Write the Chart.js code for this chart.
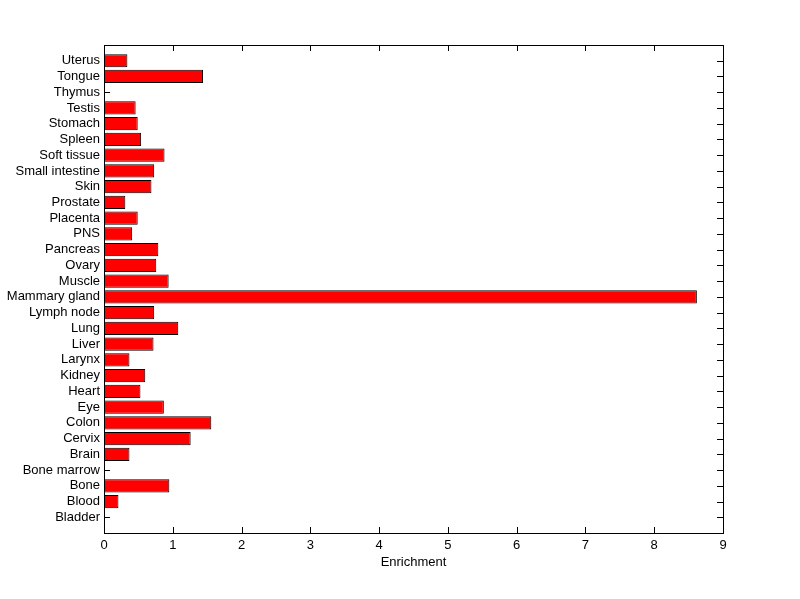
<!DOCTYPE html>
<html>
  <head>
    <meta charset="utf-8" />
    <script src="https://cdn.jsdelivr.net/npm/chart.js@4.4.1/dist/chart.umd.min.js"></script>
    <style>
      body { margin: 0; background: #fff; }
    </style>
  </head>
  <body>
    <canvas id="enrichChart" width="800" height="599"></canvas>
    <script>
      // bottom to top, as on the plot (Bladder = 1, Uterus = 30)
      var tissues = [
        "Bladder", "Blood", "Bone", "Bone marrow", "Brain", "Cervix", "Colon",
        "Eye", "Heart", "Kidney", "Larynx", "Liver", "Lung", "Lymph node",
        "Mammary gland", "Muscle", "Ovary", "Pancreas", "PNS", "Placenta",
        "Prostate", "Skin", "Small intestine", "Soft tissue", "Spleen",
        "Stomach", "Testis", "Thymus", "Tongue", "Uterus",
      ];
      var enrichment = [
        0, 0.21, 0.95, 0, 0.37, 1.26, 1.56,
        0.87, 0.53, 0.6, 0.37, 0.72, 1.08, 0.73,
        8.62, 0.94, 0.76, 0.79, 0.41, 0.49,
        0.31, 0.69, 0.73, 0.88, 0.54,
        0.49, 0.46, 0, 1.44, 0.34,
      ];
      var xTicks = [0, 1, 2, 3, 4, 5, 6, 7, 8, 9];

      var font = { family: "'Liberation Sans', Arial, sans-serif", size: 13 };

      // matlab style box with inward ticks
      var boxPlugin = {
        id: "box",
        beforeDatasetsDraw: function (chart) {
          var c = chart.ctx, a = chart.chartArea;
          var xs = chart.scales.x, ys = chart.scales.y;
          c.save();
          c.strokeStyle = "#000";
          c.lineWidth = 1;
          c.beginPath();
          xs.ticks.forEach(function (t) {
            var px = Math.round(xs.getPixelForValue(t.value)) + 0.5;
            c.moveTo(px, a.bottom);
            c.lineTo(px, a.bottom - 6);
            c.moveTo(px, a.top);
            c.lineTo(px, a.top + 6);
          });
          ys.ticks.forEach(function (t) {
            var py = Math.round(ys.getPixelForValue(t.value)) + 0.5;
            c.moveTo(a.left, py);
            c.lineTo(a.left + 6, py);
            c.moveTo(a.right, py);
            c.lineTo(a.right - 6, py);
          });
          c.stroke();
          c.restore();
        },
        afterDatasetsDraw: function (chart) {
          var c = chart.ctx, a = chart.chartArea;
          c.save();
          c.strokeStyle = "#000";
          c.lineWidth = 1;
          c.strokeRect(
            Math.round(a.left) + 0.5,
            Math.round(a.top) + 0.5,
            Math.round(a.right - a.left),
            Math.round(a.bottom - a.top)
          );
          c.restore();
        },
      };

      var ctx = document.getElementById("enrichChart").getContext("2d");
      new Chart(ctx, {
        type: "bar",
        data: {
          datasets: [
            {
              data: enrichment.map(function (v, i) {
                return { x: v, y: i + 1 };
              }),
              backgroundColor: "#ff0000",
              borderColor: "#000000",
              borderWidth: 1,
              borderSkipped: false,
              barPercentage: 0.84,
              categoryPercentage: 1,
            },
          ],
        },
        options: {
          indexAxis: "y",
          responsive: false,
          animation: false,
          layout: { padding: { left: 0, right: 77, top: 45, bottom: 29 } },
          plugins: {
            legend: { display: false },
            tooltip: { enabled: false },
          },
          scales: {
            x: {
              type: "linear",
              min: 0,
              max: 9,
              afterBuildTicks: function (scale) {
                scale.ticks = xTicks.map(function (v) { return { value: v }; });
              },
              grid: { display: false, drawTicks: false },
              border: { display: false },
              ticks: { color: "#000", font: font, padding: 5, maxRotation: 0 },
              title: {
                display: true,
                text: "Enrichment",
                color: "#000",
                font: font,
                padding: { top: 1, bottom: 0 },
              },
              afterFit: function (scale) { scale.height = 37; },
            },
            y: {
              type: "linear",
              offset: false,
              min: 0,
              max: tissues.length + 1,
              afterBuildTicks: function (scale) {
                scale.ticks = tissues.map(function (t, i) { return { value: i + 1 }; });
              },
              grid: { display: false, drawTicks: false, offset: false },
              border: { display: false },
              ticks: {
                color: "#000",
                font: font,
                padding: 4,
                autoSkip: false,
                callback: function (v) { return tissues[v - 1] || ""; },
              },
              afterFit: function (scale) { scale.width = 104; },
            },
          },
        },
        plugins: [boxPlugin],
      });
    </script>
  </body>
</html>
